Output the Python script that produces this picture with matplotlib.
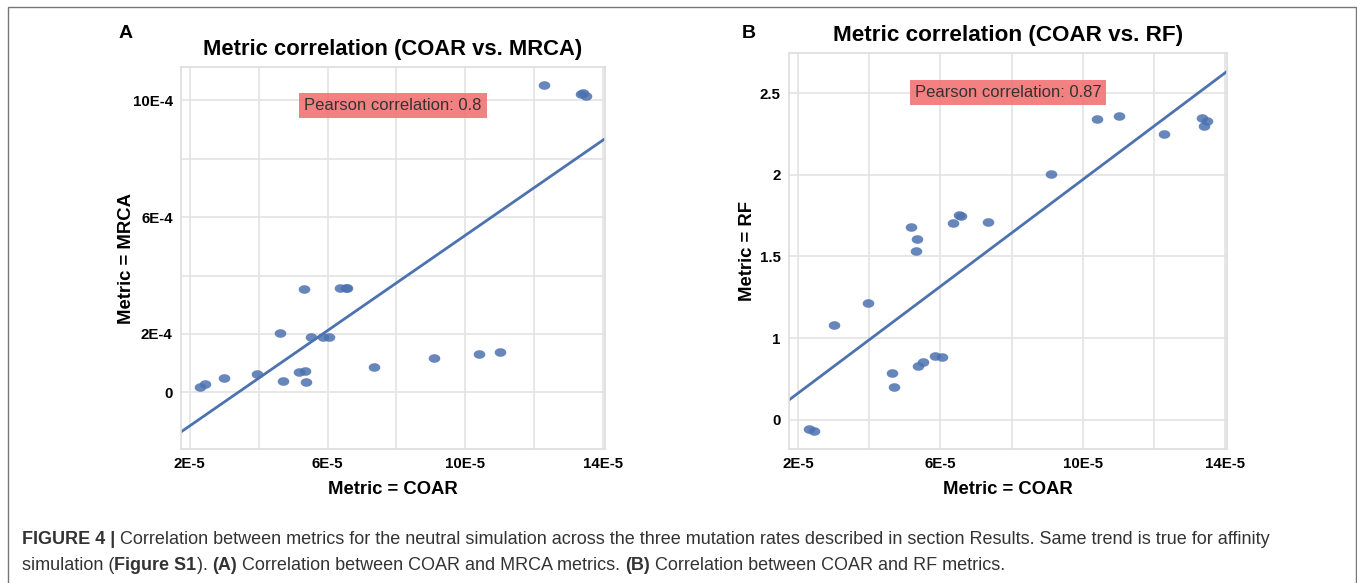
import numpy as np
import matplotlib
matplotlib.use("Agg")
import matplotlib.pyplot as plt
from matplotlib.path import Path
from matplotlib.patches import Rectangle

plt.rcParams['font.family'] = ['Liberation Sans', 'DejaVu Sans']

# COAR values shared by both panels
coar = np.array([2.31, 2.45, 3.01, 3.96, 4.63, 4.71, 5.17, 5.33, 5.35, 5.38,
                 5.51, 5.86, 6.04, 6.35, 6.53, 6.58, 7.34, 9.10, 10.39, 11.01,
                 12.27, 13.36, 13.40, 13.49]) * 1e-5
# MRCA metric (panel A)
mrca = np.array([0.19, 0.27, 0.48, 0.62, 2.02, 0.38, 0.68, 3.55, 0.73, 0.36,
                 1.88, 1.88, 1.90, 3.58, 3.56, 3.56, 0.87, 1.19, 1.31, 1.38,
                 10.54, 10.23, 10.25, 10.16]) * 1e-4
# RF metric (panel B)
rf = np.array([0.443, 0.433, 1.080, 1.216, 0.786, 0.700, 1.678, 1.535, 1.606, 0.827,
               0.853, 0.894, 0.884, 1.702, 1.751, 1.745, 1.710, 2.006, 2.341, 2.359,
               2.249, 2.349, 2.296, 2.329])

x_ticks = [2e-5, 6e-5, 10e-5, 14e-5]
x_ticklabels = ['2E-5', '6E-5', '10E-5', '14E-5']
x_grid = np.arange(2, 15, 2) * 1e-5
a_ticks = [0, 2e-4, 6e-4, 10e-4]
a_ticklabels = ['0', '2E-4', '6E-4', '10E-4']
a_grid = np.arange(0, 11, 2) * 1e-4
b_ticks = [0.5, 1, 1.5, 2, 2.5]
b_ticklabels = ['0', '1', '1.5', '2', '2.5']

blue = '#4C72B0'
grid_c = '#E3E3E3'

# slightly wide ellipse marker like the original
t = np.linspace(0, 2 * np.pi, 40)
ell = Path(np.column_stack([1.35 * np.cos(t), np.sin(t)]), closed=True)

fig = plt.figure(figsize=(13.57, 5.83), dpi=100)
bg = fig.add_axes([0, 0, 1, 1])
bg.set_xlim(0, 1357)
bg.set_ylim(583, 0)
bg.axis('off')
bg.add_patch(Rectangle((7.5, 6.5), 1348, 600, fill=False, edgecolor='#777777', lw=1))


def panel(rect, y, yticks, yticklabels, ygrid, ylim, title, ylabel, r_text, ylpad, tsize):
    ax = fig.add_axes(rect)
    ax.set_xlim(1.75e-5, 14.05e-5)
    ax.set_ylim(*ylim)
    for g in x_grid:
        ax.axvline(g, color=grid_c, lw=1.2, zorder=0)
    for g in ygrid:
        ax.axhline(g, color=grid_c, lw=1.2, zorder=0)
    ax.scatter(coar, y, marker=ell, s=70, color=blue, alpha=0.85, linewidths=0, zorder=3)
    k, b = np.polyfit(coar, y, 1)
    xs = np.array(ax.get_xlim())
    ax.plot(xs, k * xs + b, color=blue, lw=2, zorder=2)
    ax.set_xticks(x_ticks)
    ax.set_xticklabels(x_ticklabels)
    ax.set_yticks(yticks)
    ax.set_yticklabels(yticklabels)
    ax.tick_params(length=0, labelsize=10.8, pad=6)
    for lab in ax.get_xticklabels() + ax.get_yticklabels():
        lab.set_fontweight('bold')
    for s in ax.spines.values():
        s.set_color('#DDDDDD')
        s.set_linewidth(1.2)
    ax.set_title(title, fontsize=tsize, fontweight='bold', pad=9)
    ax.set_xlabel('Metric = COAR', fontsize=13.3, fontweight='bold', labelpad=7)
    ax.set_ylabel(ylabel, fontsize=13.3, fontweight='bold', labelpad=ylpad)
    ax.text(0.5, 0.9, r_text, transform=ax.transAxes, ha='center', va='center',
            fontsize=12, color='#333333', zorder=4,
            bbox=dict(boxstyle='square,pad=0.3', facecolor='#F36B6B', alpha=0.85, edgecolor='none'))
    return ax


panel([181 / 1357, 134 / 583, 424 / 1357, 382 / 583], mrca, a_ticks, a_ticklabels, a_grid,
      (-1.94e-4, 11.14e-4), 'Metric correlation (COAR vs. MRCA)', 'Metric = MRCA',
      'Pearson correlation: 0.8', -2, 15.8)
panel([789 / 1357, 134 / 583, 438 / 1357, 396 / 583], rf, b_ticks, b_ticklabels, b_ticks,
      (0.322, 2.745), 'Metric correlation (COAR vs. RF)', 'Metric = RF',
      'Pearson correlation: 0.87', 3, 16.2)

bg.text(126, 34, 'A', fontsize=14, fontweight='bold', ha='center', va='center')
bg.text(749, 34, 'B', fontsize=14, fontweight='bold', ha='center', va='center')

# caption, mixing bold and regular pieces
cap_lines = [
    [('FIGURE 4 |', 'bold'),
     (' Correlation between metrics for the neutral simulation across the three mutation rates '
      'described in section Results. Same trend is true for affinity', 'normal')],
    [('simulation (', 'normal'), ('Figure S1', 'bold'), ('). ', 'normal'), ('(A)', 'bold'),
     (' Correlation between COAR and MRCA metrics. ', 'normal'), ('(B)', 'bold'),
     (' Correlation between COAR and RF metrics.', 'normal')],
]
for i, line in enumerate(cap_lines):
    prev = None
    for txt, w in line:
        if prev is None:
            prev = bg.annotate(txt, xy=(22, 539 + 27 * i), xycoords='data', fontsize=13,
                               fontweight=w, color='#333333', ha='left', va='center')
        else:
            prev = bg.annotate(txt, xy=(1, 0), xycoords=prev, fontsize=13,
                               fontweight=w, color='#333333', ha='left', va='bottom')

fig.savefig('out.png', dpi=100)
